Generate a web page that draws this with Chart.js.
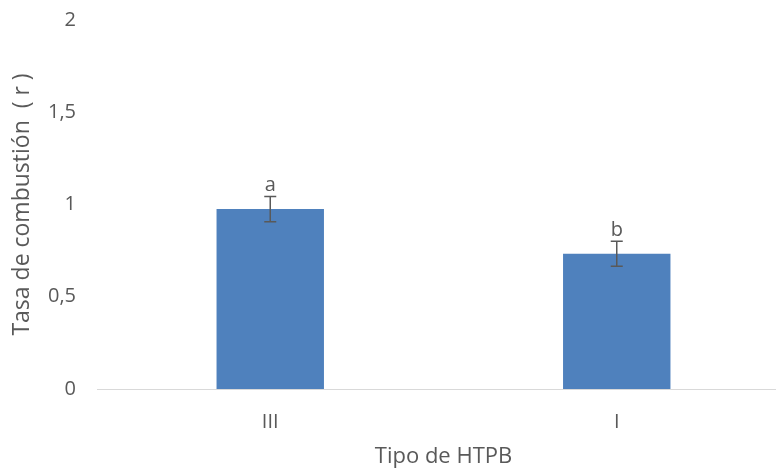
<!DOCTYPE html>
<html>
<head>
<meta charset="utf-8">
<script src="https://cdn.jsdelivr.net/npm/chart.js@4/dist/chart.umd.min.js"></script>
<style>
  html, body { margin: 0; padding: 0; background: #fff; overflow: hidden; }
  #wrap { width: 790px; height: 470px; }
</style>
</head>
<body>
<div id="wrap"><canvas id="chart" width="790" height="470"></canvas></div>
<script>
// Datos del gráfico
const categorias = ["III", "I"];
const tasa = [0.975, 0.733];
const errores = [0.068, 0.068];
const letras = ["a", "b"];
const ticksY = [0, 0.5, 1, 1.5, 2];

const gris = "#595959";
const fuente = "'Open Sans', 'Liberation Sans', sans-serif";

// Barras de error y letras encima
const erroresPlugin = {
    id: "errores",
    afterDatasetsDraw(chart) {
        const ctx = chart.ctx;
        const meta = chart.getDatasetMeta(0);
        const y = chart.scales.y;
        ctx.save();
        meta.data.forEach((bar, i) => {
            const x = bar.x;
            const arriba = y.getPixelForValue(tasa[i] + errores[i]);
            const abajo = y.getPixelForValue(tasa[i] - errores[i]);
            ctx.strokeStyle = gris;
            ctx.lineWidth = 1.5;
            ctx.beginPath();
            ctx.moveTo(x, arriba); ctx.lineTo(x, abajo);
            ctx.moveTo(x - 6, arriba); ctx.lineTo(x + 6, arriba);
            ctx.moveTo(x - 6, abajo); ctx.lineTo(x + 6, abajo);
            ctx.stroke();
            ctx.fillStyle = gris;
            ctx.font = "20px " + fuente;
            ctx.textAlign = "center";
            ctx.textBaseline = "bottom";
            ctx.fillText(letras[i], x, arriba - 1);
        });
        ctx.restore();
    }
};

new Chart(document.getElementById("chart"), {
    type: "bar",
    data: {
        labels: categorias,
        datasets: [{
            data: tasa,
            backgroundColor: "#4F81BD",
            barPercentage: 0.62,
            categoryPercentage: 0.5
        }]
    },
    options: {
        responsive: false,
        animation: false,
        layout: { padding: { top: 20, left: 0, right: 0, bottom: 0 } },
        plugins: { legend: { display: false }, tooltip: { enabled: false } },
        scales: {
            x: {
                grid: { display: false, drawTicks: false },
                border: { display: true, color: "#D9D9D9", width: 1 },
                ticks: { color: gris, font: { family: fuente, size: 20 }, padding: 21 },
                title: { display: true, text: "Tipo de HTPB", color: gris, font: { family: fuente, size: 22 }, padding: { top: 0, bottom: 0 } },
                afterFit(scale) {
                    scale.height = 81;
                    scale.paddingLeft = 0;
                    scale.paddingRight = 0;
                }
            },
            y: {
                min: 0,
                max: 2,
                afterBuildTicks(scale) { scale.ticks = ticksY.map(v => ({ value: v })); },
                grid: { display: false, drawTicks: false },
                border: { display: false },
                ticks: {
                    color: gris,
                    font: { family: fuente, size: 20 },
                    padding: 21,
                    callback: v => String(v).replace(".", ",")
                },
                title: { display: true, text: "Tasa de combustión  ( r )", color: gris, font: { family: fuente, size: 23 }, padding: { top: 9, bottom: 4 } },
                afterFit(scale) {
                    scale.width = 97;
                    scale.paddingTop = 0;
                    scale.paddingBottom = 0;
                }
            }
        }
    },
    plugins: [erroresPlugin]
});
</script>
</body>
</html>
